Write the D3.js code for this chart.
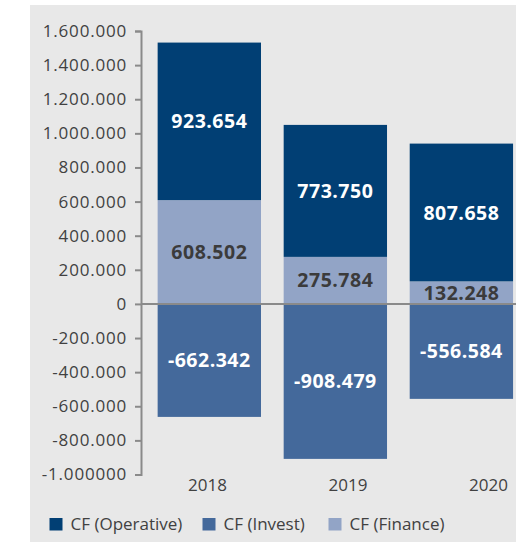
<!DOCTYPE html>
<html>
<head>
<meta charset="utf-8">
<script src="https://cdn.jsdelivr.net/npm/d3@7/dist/d3.min.js"></script>
<style>
  html, body { margin: 0; padding: 0; background: #ffffff; }
  svg { display: block; }
  text { font-family: "Open Sans", "Noto Sans", sans-serif; }
</style>
</head>
<body>
<svg id="chart" width="516" height="542"></svg>
<script>
// Cash flow by year (values in EUR)
const years = ["2018", "2019", "2020"];
const cfOperative = [923654, 773750, 807658];
const cfInvest = [-662342, -908479, -556584];
const cfFinance = [608502, 275784, 132248];
const valueLabels = {
  operative: ["923.654", "773.750", "807.658"],
  invest: ["-662.342", "-908.479", "-556.584"],
  finance: ["608.502", "275.784", "132.248"]
};
const yTickValues = [1600000, 1400000, 1200000, 1000000, 800000, 600000, 400000, 200000, 0,
  -200000, -400000, -600000, -800000, -1000000];
const yTickLabels = ["1.600.000", "1.400.000", "1.200.000", "1.000.000", "800.000", "600.000",
  "400.000", "200.000", "0", "-200.000", "-400.000", "-600.000", "-800.000", "-1.000000"];
const legendItems = ["CF (Operative)", "CF (Invest)", "CF (Finance)"];

const colors = {
  operative: "#013f74",
  invest: "#44699b",
  finance: "#92a4c6",
  panel: "#e8e8e8",
  text: "#414141",
  axis: "#8a8a8a"
};

const svg = d3.select("#chart");

// grey panel
svg.append("rect")
  .attr("x", 30).attr("y", 5)
  .attr("width", 486).attr("height", 537)
  .attr("fill", colors.panel);

const y = d3.scaleLinear().domain([-1000000, 1600000]).range([474.5, 31]);
const x = d3.scaleBand().domain(years).range([146.3, 524.4])
  .paddingInner(0.18).paddingOuter(0.09);
const xLabel = d3.scalePoint().domain(years).range([207, 488]);

// stacked segments: finance on top of zero, operative on top of finance, invest below zero
const segments = [];
years.forEach((yr, i) => {
  segments.push({ key: "finance", year: yr, y0: 0, y1: cfFinance[i], label: valueLabels.finance[i] });
  segments.push({ key: "operative", year: yr, y0: cfFinance[i], y1: cfFinance[i] + cfOperative[i], label: valueLabels.operative[i] });
  segments.push({ key: "invest", year: yr, y0: 0, y1: cfInvest[i], label: valueLabels.invest[i] });
});

const g = svg.append("g");

g.selectAll("rect.seg")
  .data(segments)
  .join("rect")
  .attr("class", "seg")
  .attr("x", d => x(d.year))
  .attr("width", x.bandwidth())
  .attr("y", d => y(Math.max(d.y0, d.y1)))
  .attr("height", d => Math.abs(y(d.y0) - y(d.y1)))
  .attr("fill", d => colors[d.key]);

// zero line across the plot
svg.append("line")
  .attr("x1", 141).attr("x2", 516)
  .attr("y1", y(0)).attr("y2", y(0))
  .attr("stroke", colors.axis).attr("stroke-width", 2);

// value labels centred in each segment
g.selectAll("text.val")
  .data(segments)
  .join("text")
  .attr("class", "val")
  .attr("x", d => x(d.year) + x.bandwidth() / 2)
  .attr("y", d => (y(d.y0) + y(d.y1)) / 2)
  .attr("dy", "0.36em")
  .attr("text-anchor", "middle")
  .attr("font-size", 19.5)
  .attr("font-weight", "bold")
  .attr("letter-spacing", "0.5px")
  .attr("fill", d => d.key === "finance" ? "#3b3b3b" : "#ffffff")
  .text(d => d.label);

// y axis
const yAxis = d3.axisLeft(y)
  .tickValues(yTickValues)
  .tickFormat((d, i) => yTickLabels[i])
  .tickSize(6)
  .tickSizeOuter(6)
  .tickPadding(8);

const ya = svg.append("g")
  .attr("transform", "translate(141,0)")
  .call(yAxis);
ya.select(".domain").attr("stroke", colors.axis).attr("stroke-width", 2);
ya.selectAll(".tick line").attr("stroke", colors.axis).attr("stroke-width", 2);
ya.selectAll(".tick text")
  .attr("fill", colors.text)
  .attr("font-size", 17)
  .attr("letter-spacing", "0.8px")
  .attr("font-family", "'Open Sans', sans-serif");

// x axis labels
const xAxis = d3.axisBottom(xLabel).tickSize(0).tickPadding(0);
const xa = svg.append("g")
  .attr("transform", "translate(0,479)")
  .call(xAxis);
xa.select(".domain").remove();
xa.selectAll(".tick text")
  .attr("fill", colors.text)
  .attr("font-size", 17)
  .attr("dy", "0.71em")
  .attr("font-family", "'Open Sans', sans-serif");

// legend
const legendKeys = ["operative", "invest", "finance"];
const legendX = d3.scalePoint().domain(legendKeys).range([49.5, 328.5]);
const lg = svg.append("g").selectAll("g")
  .data(legendKeys)
  .join("g")
  .attr("transform", (d, i) => `translate(${legendX(d) + (i === 1 ? 13.5 : 0)},518)`);
lg.append("rect")
  .attr("width", 13).attr("height", 12.5)
  .attr("fill", d => colors[d]);
lg.append("text")
  .attr("x", 21).attr("y", 12)
  .attr("font-size", 17)
  .attr("fill", colors.text)
  .text((d, i) => legendItems[i]);
</script>
</body>
</html>
